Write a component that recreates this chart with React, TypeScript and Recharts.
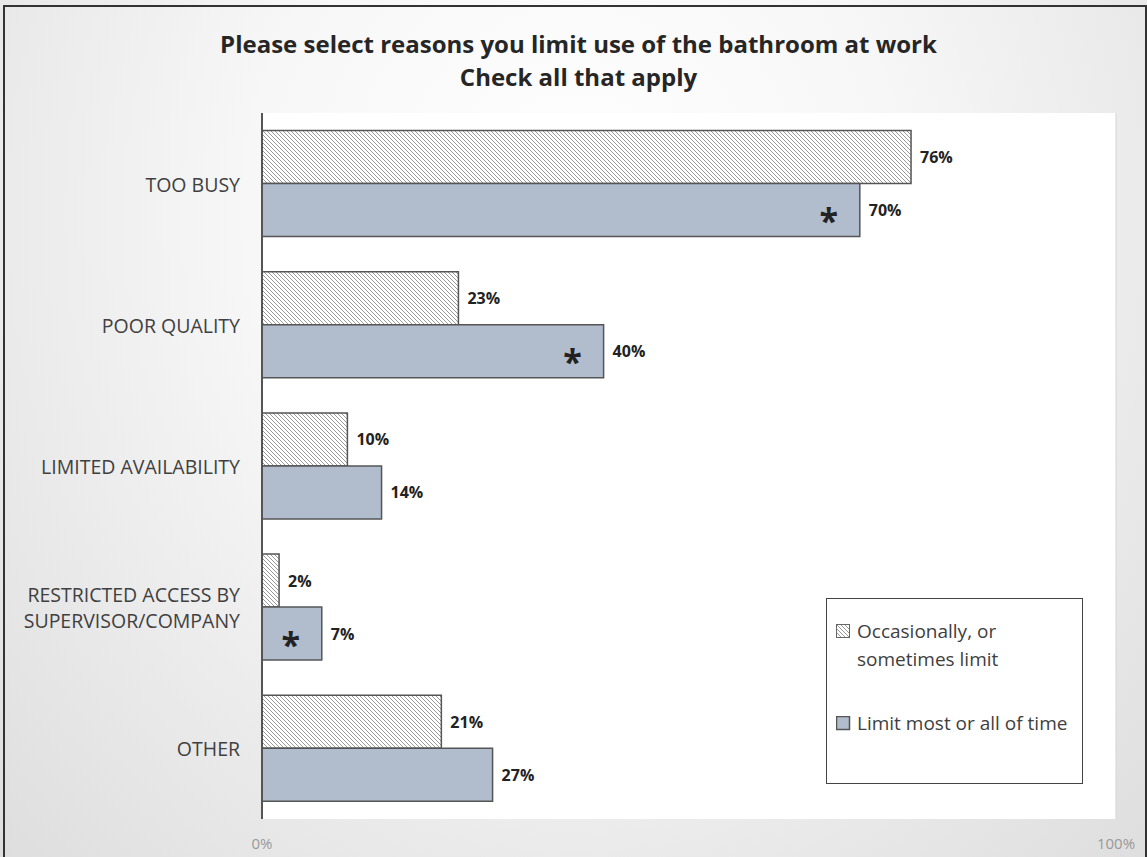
import React from "react";
import { BarChart, Bar, XAxis, YAxis, CartesianGrid, Legend, LabelList, ReferenceLine } from "recharts";

const categories = [
  "TOO BUSY",
  "POOR QUALITY",
  "LIMITED AVAILABILITY",
  "RESTRICTED ACCESS BY\nSUPERVISOR/COMPANY",
  "OTHER",
];
const occasional = [76, 23, 10, 2, 21];
const limitMost = [70, 40, 14, 7, 27];
const significant = [true, true, false, true, false];
const xTicks = [0, 100];

const seriesNames = {
  occasional: "Occasionally, or\nsometimes limit",
  limitMost: "Limit most or all of time",
};

const data = categories.map((name, i) => ({
  name,
  occasional: occasional[i],
  limitMost: limitMost[i],
  star: significant[i] ? "*" : "",
}));

const FONT = "'Open Sans', sans-serif";
const BLUE = "#b1bccd";
const EDGE = "#555";

const CategoryTick = (props: any) => {
  const { x, y, payload } = props;
  const lines = String(payload.value).split("\n");
  const lh = 26;
  const start = y - ((lines.length - 1) * lh) / 2;
  return (
    <text x={x} y={start} textAnchor="end" fill="#404040" fontSize={19.5} fontFamily={FONT} dominantBaseline="central">
      {lines.map((l, i) => (
        <tspan key={i} x={x} y={start + i * lh}>
          {l}
        </tspan>
      ))}
    </text>
  );
};

const PercentTick = (props: any) => {
  const { x, y, payload } = props;
  return (
    <text x={x} y={y + 22} textAnchor="middle" fill="#999" fontSize={15} fontFamily={FONT}>
      {payload.value}%
    </text>
  );
};

const ValueLabel = (props: any) => {
  const { x, y, width, height, value } = props;
  return (
    <text
      x={x + width + 9}
      y={y + height / 2}
      dominantBaseline="central"
      fontSize={16}
      fontWeight="bold"
      fontFamily={FONT}
      fill="#222"
    >
      {value}%
    </text>
  );
};

const StarLabel = (props: any) => {
  const { x, y, width, height, value } = props;
  if (!value) return null;
  return (
    <text
      x={x + width - 31}
      y={y + height / 2 + 23}
      textAnchor="middle"
      fontSize={34}
      fontWeight="bold"
      fontFamily={FONT}
      fill="#222"
    >
      *
    </text>
  );
};

const LegendBox = () => (
  <div
    style={{
      width: 257,
      height: 186,
      border: "1px solid #444",
      background: "#fff",
      fontFamily: FONT,
      fontSize: 19,
      color: "#404040",
      boxSizing: "border-box",
      padding: "18px 0 0 9px",
    }}
  >
    <div style={{ display: "flex", alignItems: "flex-start", lineHeight: "28px" }}>
      <svg width={15} height={15} style={{ marginTop: 7, marginRight: 6, flex: "none" }}>
        <rect x={0.5} y={0.5} width={13} height={13} fill="url(#hatchLegend)" stroke="#666" />
      </svg>
      <div style={{ whiteSpace: "pre" }}>{seriesNames.occasional}</div>
    </div>
    <div style={{ display: "flex", alignItems: "flex-start", lineHeight: "28px", marginTop: 36 }}>
      <svg width={15} height={15} style={{ marginTop: 7, marginRight: 6, flex: "none" }}>
        <rect x={0.5} y={0.5} width={13} height={13} fill={BLUE} stroke="#555" strokeWidth={1.5} />
      </svg>
      <div style={{ whiteSpace: "nowrap" }}>{seriesNames.limitMost}</div>
    </div>
  </div>
);

export default function App() {
  return (
    <div
      style={{
        position: "absolute",
        left: 0,
        top: 0,
        width: 1147,
        height: 857,
        overflow: "hidden",
        background: "radial-gradient(ellipse at 50% 25%, #ffffff 0%, #f7f7f7 40%, #dedede 100%)",
      }}
    >
      <div
        style={{
          position: "absolute",
          left: 3,
          top: 5,
          width: 1140,
          height: 870,
          borderTop: "2px solid #333",
          borderLeft: "2px solid #333",
          borderRight: "2px solid #333",
        }}
      />
      <div
        style={{
          position: "absolute",
          left: 10,
          top: 27,
          width: 1137,
          textAlign: "center",
          fontFamily: FONT,
          fontWeight: "bold",
          fontSize: 24,
          lineHeight: "33px",
          color: "#262626",
        }}
      >
        Please select reasons you limit use of the bathroom at work
        <br />
        Check all that apply
      </div>
      <svg width={0} height={0} style={{ position: "absolute" }}>
        <defs>
          <pattern id="hatchLegend" patternUnits="userSpaceOnUse" width={4} height={4}>
            <rect width={4} height={4} fill="#fff" />
            <path d="M-1,-1 L5,5 M-1,3 L1,5 M3,-1 L5,1" stroke="#999" strokeWidth={1} />
          </pattern>
        </defs>
      </svg>
      <BarChart
        width={1147}
        height={857}
        data={data}
        layout="vertical"
        margin={{ top: 113, right: 31, bottom: 0, left: 0 }}
        barCategoryGap="12.4%"
        barGap={0}
        style={{ position: "absolute", left: 0, top: 0 }}
      >
        <defs>
          <pattern id="hatch" patternUnits="userSpaceOnUse" width={4} height={4}>
            <rect width={4} height={4} fill="#fff" />
            <path d="M-1,-1 L5,5 M-1,3 L1,5 M3,-1 L5,1" stroke="#9a9a9a" strokeWidth={1} />
          </pattern>
        </defs>
        <CartesianGrid horizontal={false} vertical={false} fill="#fff" />
        <XAxis
          type="number"
          domain={[0, 100]}
          ticks={xTicks}
          axisLine={false}
          tickLine={false}
          height={38}
          tick={<PercentTick />}
        />
        <YAxis
          type="category"
          dataKey="name"
          width={262}
          axisLine={{ stroke: EDGE, strokeWidth: 2 }}
          tickLine={false}
          tickSize={0}
          tickMargin={22}
          tick={<CategoryTick />}
          interval={0}
        />
        <ReferenceLine x={100} stroke="#d4d4d4" />
        <Legend
          layout="vertical"
          align="center"
          verticalAlign="middle"
          content={<LegendBox />}
          wrapperStyle={{ left: 826, top: 598, width: 257, height: 186 }}
        />
        <Bar dataKey="occasional" name={seriesNames.occasional} fill="url(#hatch)" stroke={EDGE} strokeWidth={1.5} isAnimationActive={false}>
          <LabelList dataKey="occasional" content={<ValueLabel />} />
        </Bar>
        <Bar dataKey="limitMost" name={seriesNames.limitMost} fill={BLUE} stroke={EDGE} strokeWidth={1.5} isAnimationActive={false}>
          <LabelList dataKey="limitMost" content={<ValueLabel />} />
          <LabelList dataKey="star" content={<StarLabel />} />
        </Bar>
      </BarChart>
    </div>
  );
}
